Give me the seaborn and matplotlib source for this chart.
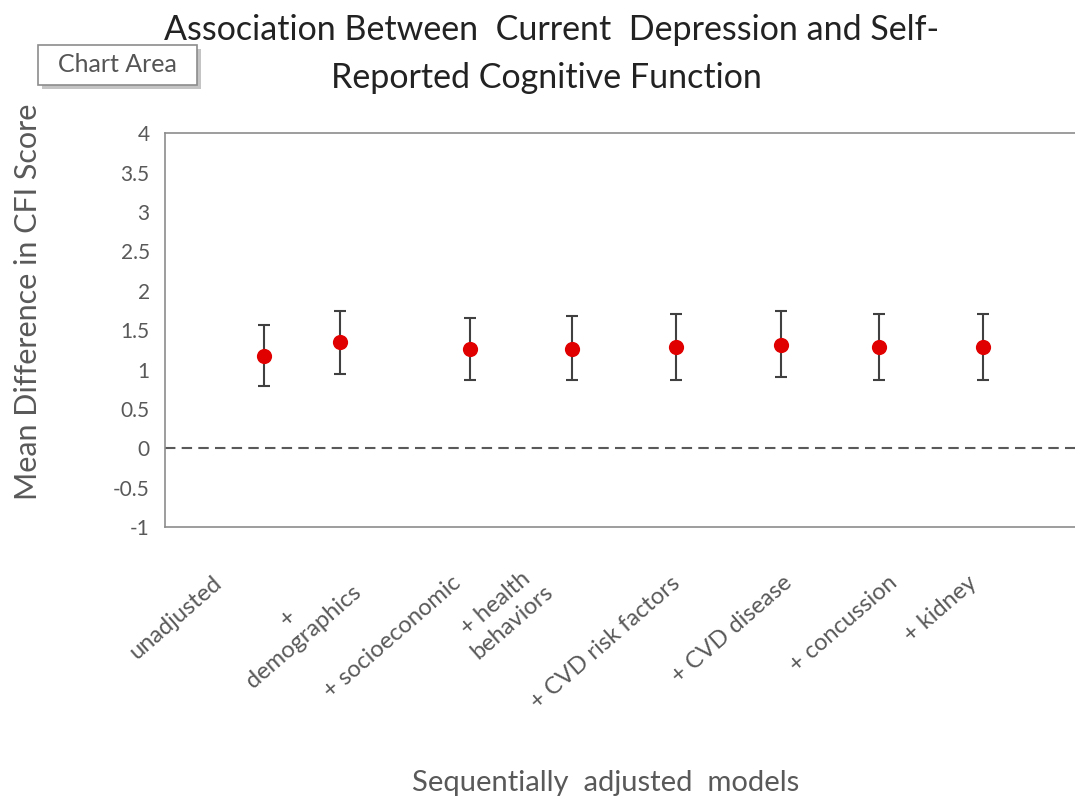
import matplotlib
matplotlib.use('Agg')
import matplotlib.pyplot as plt
from matplotlib.patches import Rectangle
import pandas as pd
import seaborn as sns

# Dados do gráfico
modelos = ['unadjusted', '+\ndemographics', '+ socioeconomic', '+ health\nbehaviors',
           '+ CVD risk factors', '+ CVD disease', '+ concussion', '+ kidney']
x_pos = [0.96, 1.70, 2.96, 3.95, 4.96, 5.98, 6.93, 7.94]
media = [1.17, 1.35, 1.26, 1.26, 1.29, 1.31, 1.29, 1.29]
ic_inf = [0.79, 0.95, 0.87, 0.87, 0.87, 0.90, 0.87, 0.87]
ic_sup = [1.56, 1.74, 1.65, 1.68, 1.71, 1.74, 1.71, 1.71]
label_pos = [0.52, 1.80, 2.84, 3.66, 4.97, 6.06, 7.08, 7.86]
y_ticks = [-1, -0.5, 0, 0.5, 1, 1.5, 2, 2.5, 3, 3.5, 4]

df = pd.DataFrame({'x': x_pos, 'media': media, 'inf': ic_inf, 'sup': ic_sup})

sns.set_style('white')
plt.rcParams['font.family'] = ['Lato', 'DejaVu Sans']
cinza = '#595959'

fig = plt.figure(figsize=(10.75, 8), dpi=100)
ax = fig.add_axes([0.1535, 0.341, 0.862, 0.4925])

# Barras de erro (IC 95%)
ax.errorbar(df['x'], df['media'],
            yerr=[df['media'] - df['inf'], df['sup'] - df['media']],
            fmt='none', ecolor='#404040', elinewidth=1.5, capsize=4.5, capthick=1.5, zorder=2)
sns.scatterplot(data=df, x='x', y='media', color='#E00000', s=120,
                edgecolor='#E00000', linewidth=0, ax=ax, zorder=3)

ax.axhline(0, color=cinza, linestyle=(0, (5, 3)), linewidth=1.5, zorder=1)

ax.set_xlim(0, 9)
ax.set_ylim(-1, 4)
ax.set_yticks(y_ticks)
ax.set_yticklabels([f'{v:g}' for v in y_ticks])
ax.set_xticks(label_pos)
ax.set_xticklabels(modelos, rotation=41, ha='right', rotation_mode='anchor',
                   va='center', multialignment='center')
ax.tick_params(axis='x', length=0, pad=38, labelsize=17, labelcolor=cinza)
ax.tick_params(axis='y', length=0, pad=11, labelsize=15, labelcolor=cinza)

for s in ['left', 'top', 'bottom']:
    ax.spines[s].set_color('#8c8c8c')
    ax.spines[s].set_linewidth(1.2)
ax.spines['right'].set_visible(False)

ax.set_xlabel('')
ax.set_ylabel('Mean Difference in CFI Score', fontsize=22, color=cinza)
ax.yaxis.set_label_coords(-0.133, 0.571)

fig.text(0.513, 0.962, 'Association Between  Current  Depression and Self-',
         ha='center', va='center', fontsize=24.5, color='#222222')
fig.text(0.508, 0.903, 'Reported Cognitive Function',
         ha='center', va='center', fontsize=24.5, color='#222222')
fig.text(0.563, 0.021, 'Sequentially  adjusted  models',
         ha='center', va='center', fontsize=21, color=cinza)

# Caixa "Chart Area" (tooltip do Excel) com sombra
fig.patches.append(Rectangle((0.0390, 0.889), 0.148, 0.05, transform=fig.transFigure,
                             facecolor='#c4c4c4', edgecolor='none', zorder=5))
fig.patches.append(Rectangle((0.0353, 0.894), 0.148, 0.05, transform=fig.transFigure,
                             facecolor='white', edgecolor='#8c8c8c', linewidth=1.2, zorder=6))
fig.text(0.109, 0.919, 'Chart Area', ha='center', va='center', fontsize=18,
         color='#555555', zorder=7)

fig.savefig('out.png', dpi=100)
